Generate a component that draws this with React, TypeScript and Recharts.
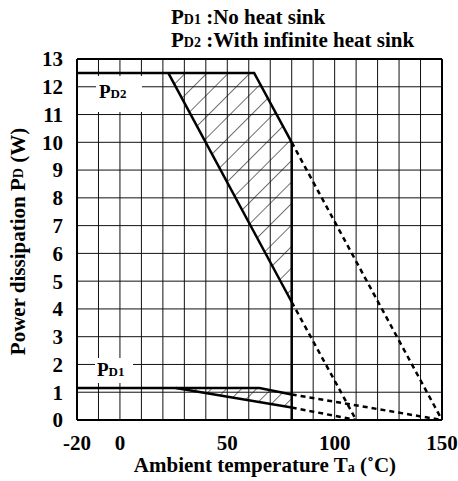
import { ComposedChart, Line, Area, XAxis, YAxis, CartesianGrid, ReferenceLine } from "recharts";

// temperature grid (every 10 °C) and the labelled ones
const xGridTicks = [-20, -10, 0, 10, 20, 30, 40, 50, 60, 70, 80, 90, 100, 110, 120, 130, 140, 150];
const xLabelTicks = [-20, 0, 50, 100, 150];
const yTicks = [0, 1, 2, 3, 4, 5, 6, 7, 8, 9, 10, 11, 12, 13];

// PD2 : with infinite heat sink
const pd2Upper = [
  { t: -20, p: 12.5 },
  { t: 62.5, p: 12.5 },
  { t: 80, p: 10 },
];
const pd2UpperExt = [
  { t: 80, p: 10 },
  { t: 150, p: 0 },
];
const pd2Lower = [
  { t: 22.5, p: 12.5 },
  { t: 80, p: 4.25 },
];
const pd2LowerExt = [
  { t: 80, p: 4.25 },
  { t: 110, p: 0 },
];
const pd2Band = [
  { t: 22.5, r: [12.5, 12.5] },
  { t: 62.5, r: [6.8, 12.5] },
  { t: 80, r: [4.25, 10] },
];

// PD1 : no heat sink
const pd1Upper = [
  { t: -20, p: 1.15 },
  { t: 65, p: 1.15 },
  { t: 80, p: 0.92 },
];
const pd1UpperExt = [
  { t: 80, p: 0.92 },
  { t: 150, p: 0 },
];
const pd1Lower = [
  { t: 26, p: 1.15 },
  { t: 80, p: 0.45 },
];
const pd1LowerExt = [
  { t: 80, p: 0.45 },
  { t: 110, p: 0 },
];
const pd1Band = [
  { t: 26, r: [1.15, 1.15] },
  { t: 65, r: [0.64, 1.15] },
  { t: 80, r: [0.45, 0.92] },
];

// Ta = 80 °C limit
const limit80 = [
  { t: 80, p: 10 },
  { t: 80, p: 0 },
];

const FONT = "'Liberation Serif', 'Times New Roman', serif";

const XTick = ({ x, y, payload }: any) =>
  xLabelTicks.includes(payload.value) ? (
    <text x={x} y={y + 22} textAnchor="middle" fontFamily={FONT} fontWeight="bold" fontSize={21} fill="#000">
      {payload.value}
    </text>
  ) : (
    <g />
  );

const YTick = ({ x, y, payload }: any) => (
  <text x={x - 6} y={y} dy="0.35em" textAnchor="end" fontFamily={FONT} fontWeight="bold" fontSize={21} fill="#000">
    {payload.value}
  </text>
);

export default function App() {
  const solid = { type: "linear" as const, dataKey: "p", stroke: "#000", strokeWidth: 2.5, dot: false, isAnimationActive: false };
  const dashed = { ...solid, strokeDasharray: "5 4" };

  return (
    <div style={{ position: "absolute", left: 0, top: 0, width: 458, height: 481, background: "#fff" }}>
      <ComposedChart width={458} height={481} margin={{ top: 59, right: 16, left: 0, bottom: 0 }}>
        <CartesianGrid stroke="#111" strokeWidth={1} />
        <XAxis
          type="number"
          dataKey="t"
          domain={[-20, 150]}
          ticks={xGridTicks}
          interval={0}
          height={61}
          tickLine={false}
          tick={<XTick />}
          axisLine={{ stroke: "#000", strokeWidth: 2 }}
          allowDataOverflow
        />
        <YAxis
          type="number"
          domain={[0, 13]}
          ticks={yTicks}
          interval={0}
          width={77}
          tickLine={false}
          tick={<YTick />}
          axisLine={{ stroke: "#000", strokeWidth: 2 }}
          allowDataOverflow
        />
        <ReferenceLine y={13} stroke="#000" strokeWidth={2} />
        <ReferenceLine x={150} stroke="#000" strokeWidth={2} />

        <Area data={pd2Band} type="linear" dataKey="r" stroke="none" fill="url(#hatch2)" fillOpacity={1} isAnimationActive={false} />
        <Area data={pd1Band} type="linear" dataKey="r" stroke="none" fill="url(#hatch1)" fillOpacity={1} isAnimationActive={false} />

        <Line data={pd2Upper} {...solid} />
        <Line data={pd2Lower} {...solid} />
        <Line data={pd2UpperExt} {...dashed} />
        <Line data={pd2LowerExt} {...dashed} />
        <Line data={limit80} {...solid} />
        <Line data={pd1Upper} {...solid} />
        <Line data={pd1Lower} {...solid} />
        <Line data={pd1UpperExt} {...dashed} />
        <Line data={pd1LowerExt} {...dashed} />
      </ComposedChart>

      <svg
        width={458}
        height={481}
        style={{ position: "absolute", left: 0, top: 0, pointerEvents: "none" }}
        fontFamily={FONT}
        fontWeight="bold"
      >
        <defs>
          <pattern id="hatch2" patternUnits="userSpaceOnUse" width={15.2} height={15.2} patternTransform="rotate(45)">
            <line x1={0} y1={0} x2={0} y2={15.2} stroke="#111" strokeWidth={1.2} />
          </pattern>
          <pattern id="hatch1" patternUnits="userSpaceOnUse" width={10.6} height={10.6} patternTransform="rotate(45)">
            <line x1={0} y1={0} x2={0} y2={10.6} stroke="#111" strokeWidth={1.2} />
          </pattern>
        </defs>

        <text x={171} y={24} fontSize={21} fill="#000">
          P<tspan fontSize={14}>D1</tspan> :No heat sink
        </text>
        <text x={171} y={47} fontSize={21} fill="#000">
          P<tspan fontSize={14}>D2</tspan> :With infinite heat sink
        </text>

        <rect x={96} y={76} width={46} height={36} fill="#fff" />
        <text x={99} y={98} fontSize={19} fill="#000">
          P<tspan fontSize={13}>D2</tspan>
        </text>

        <rect x={95} y={358} width={38} height={25} fill="#fff" />
        <text x={97} y={376} fontSize={19} fill="#000">
          P<tspan fontSize={13}>D1</tspan>
        </text>

        <text x={265} y={472} fontSize={21} textAnchor="middle" fill="#000">
          Ambient temperature T<tspan fontSize={14}>a</tspan> (˚C)
        </text>
        <text x={18} y={241.5} fontSize={21} textAnchor="middle" dominantBaseline="central" transform="rotate(-90 18 241.5)" fill="#000">
          Power dissipation P<tspan fontSize={14}>D</tspan> (W)
        </text>
      </svg>
    </div>
  );
}
